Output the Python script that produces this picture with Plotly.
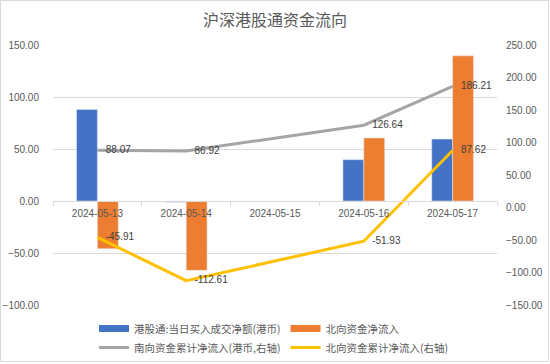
import plotly.graph_objects as go

dates = ["2024-05-13", "2024-05-14", "2024-05-15", "2024-05-16", "2024-05-17"]
south_daily = [88.07, -1.15, None, 39.72, 59.57]
north_daily = [-45.91, -66.70, None, 60.68, 139.55]
south_cum = [88.07, 86.92, None, 126.64, 186.21]
north_cum = [-45.91, -112.61, None, -51.93, 87.62]

names = ["港股通:当日买入成交净额(港币)", "北向资金净流入",
         "南向资金累计净流入(港币,右轴)", "北向资金累计净流入(右轴)"]
colors = ["#4472C4", "#ED7D31", "#A5A5A5", "#FFC000"]

FONT = "Liberation Sans, Arial, Noto Sans CJK SC, sans-serif"
CJK = "Noto Sans CJK SC, Liberation Sans, sans-serif"
W, H = 550, 364
L, R, T, B = 53, 53, 45, 59

fig = go.Figure()
fig.add_trace(go.Bar(x=dates, y=south_daily, name=names[0], marker_color=colors[0],
                     showlegend=False, yaxis="y"))
fig.add_trace(go.Bar(x=dates, y=north_daily, name=names[1], marker_color=colors[1],
                     showlegend=False, yaxis="y"))
# legend-only entries drawn as wide rectangles like the reference
for i in range(2):
    fig.add_trace(go.Scatter(x=[None], y=[None], mode="lines", name=names[i],
                             line=dict(color=colors[i], width=7), yaxis="y"))
LBL = "\u00a0\u00a0\u00a0%{y:.2f}"
fig.add_trace(go.Scatter(x=dates, y=south_cum, name=names[2], mode="lines+text",
                         connectgaps=True, line=dict(color=colors[2], width=3),
                         texttemplate=LBL, textposition="middle right",
                         textfont=dict(size=10, color="#404040", family=FONT), yaxis="y2"))
fig.add_trace(go.Scatter(x=dates, y=north_cum, name=names[3], mode="lines+text",
                         connectgaps=True, line=dict(color=colors[3], width=3),
                         texttemplate=LBL, textposition="middle right",
                         textfont=dict(size=10, color="#404040", family=FONT), yaxis="y2"))

pw = W - L - R
ph = H - T - B
fig.add_shape(type="rect", xref="paper", yref="paper",
              x0=(0.5 - L) / pw, x1=(548.5 - L) / pw,
              y0=(H - B - 361.5) / ph, y1=(H - B - 0.5) / ph,
              line=dict(color="#D9D9D9", width=1), fillcolor="rgba(0,0,0,0)", layer="below")

fig.update_layout(
    width=W, height=H,
    margin=dict(l=L, r=R, t=T, b=B, autoexpand=False),
    paper_bgcolor="white", plot_bgcolor="white",
    barmode="group", bargap=0.53, bargroupgap=0,
    title=dict(text="沪深港股通资金流向", x=0.5, xanchor="center", xref="container",
               y=1 - 20 / H, yanchor="middle", yref="container",
               font=dict(family=CJK, size=16, color="#595959")),
    font=dict(family=FONT, color="#595959"),
    xaxis=dict(type="category", anchor="free", position=0.4, automargin=False,
               showline=True, linecolor="#D9D9D9", linewidth=1,
               ticks="outside", tickson="boundaries", ticklen=4, tickcolor="#D9D9D9",
               tickfont=dict(size=10, color="#595959", family=FONT),
               ticklabelstandoff=3, showgrid=False, zeroline=False),
    yaxis=dict(range=[-100, 150], dtick=50, tickformat=".2f", automargin=False,
               showgrid=True, gridcolor="#D9D9D9", gridwidth=1, zeroline=False,
               tickfont=dict(size=10, color="#595959", family=FONT),
               ticklabelstandoff=13, showline=False),
    yaxis2=dict(range=[-150, 250], dtick=50, tickformat=".2f", overlaying="y",
                side="right", showgrid=False, zeroline=False, showline=False,
                automargin=False,
                tickfont=dict(size=10, color="#595959", family=FONT),
                ticklabelstandoff=8),
    legend=dict(orientation="h", xref="container", yref="container",
                x=94 / W, xanchor="left", y=1 - 314 / H, yanchor="top",
                font=dict(family=CJK, size=10.5, color="#595959"),
                bgcolor="rgba(0,0,0,0)", tracegroupgap=0),
    showlegend=True,
)

fig.write_html("out.html", config={"displayModeBar": False},
               post_script="document.body.style.margin='0';document.body.style.overflow='hidden';")
